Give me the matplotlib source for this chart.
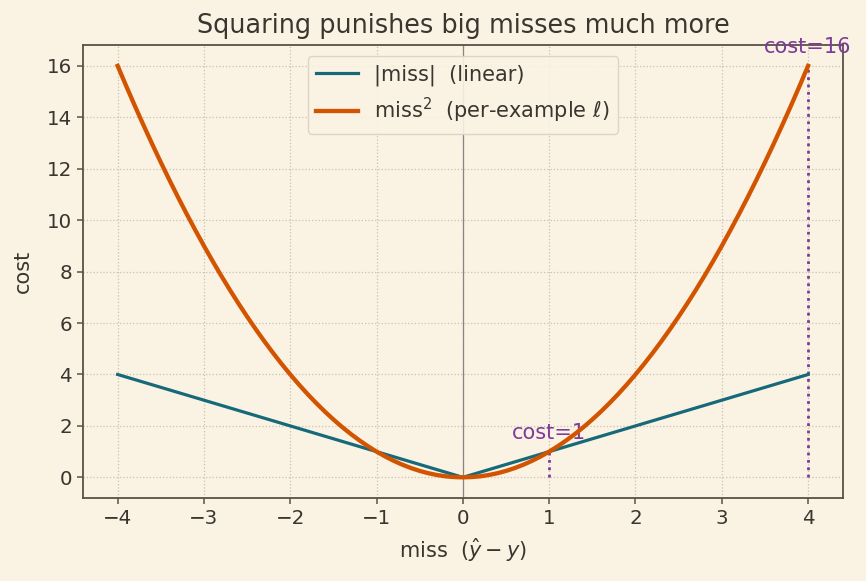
import matplotlib
matplotlib.use("Agg")
from matplotlib import pyplot as plt

# miss values (y_hat - y) sampled every 0.1
miss = [-4.0, -3.9, -3.8, -3.7, -3.6, -3.5, -3.4, -3.3, -3.2, -3.1,
        -3.0, -2.9, -2.8, -2.7, -2.6, -2.5, -2.4, -2.3, -2.2, -2.1,
        -2.0, -1.9, -1.8, -1.7, -1.6, -1.5, -1.4, -1.3, -1.2, -1.1,
        -1.0, -0.9, -0.8, -0.7, -0.6, -0.5, -0.4, -0.3, -0.2, -0.1,
        0.0, 0.1, 0.2, 0.3, 0.4, 0.5, 0.6, 0.7, 0.8, 0.9,
        1.0, 1.1, 1.2, 1.3, 1.4, 1.5, 1.6, 1.7, 1.8, 1.9,
        2.0, 2.1, 2.2, 2.3, 2.4, 2.5, 2.6, 2.7, 2.8, 2.9,
        3.0, 3.1, 3.2, 3.3, 3.4, 3.5, 3.6, 3.7, 3.8, 3.9, 4.0]
abs_cost = [4.0, 3.9, 3.8, 3.7, 3.6, 3.5, 3.4, 3.3, 3.2, 3.1,
            3.0, 2.9, 2.8, 2.7, 2.6, 2.5, 2.4, 2.3, 2.2, 2.1,
            2.0, 1.9, 1.8, 1.7, 1.6, 1.5, 1.4, 1.3, 1.2, 1.1,
            1.0, 0.9, 0.8, 0.7, 0.6, 0.5, 0.4, 0.3, 0.2, 0.1,
            0.0, 0.1, 0.2, 0.3, 0.4, 0.5, 0.6, 0.7, 0.8, 0.9,
            1.0, 1.1, 1.2, 1.3, 1.4, 1.5, 1.6, 1.7, 1.8, 1.9,
            2.0, 2.1, 2.2, 2.3, 2.4, 2.5, 2.6, 2.7, 2.8, 2.9,
            3.0, 3.1, 3.2, 3.3, 3.4, 3.5, 3.6, 3.7, 3.8, 3.9, 4.0]
sq_cost = [16.0, 15.21, 14.44, 13.69, 12.96, 12.25, 11.56, 10.89, 10.24, 9.61,
           9.0, 8.41, 7.84, 7.29, 6.76, 6.25, 5.76, 5.29, 4.84, 4.41,
           4.0, 3.61, 3.24, 2.89, 2.56, 2.25, 1.96, 1.69, 1.44, 1.21,
           1.0, 0.81, 0.64, 0.49, 0.36, 0.25, 0.16, 0.09, 0.04, 0.01,
           0.0, 0.01, 0.04, 0.09, 0.16, 0.25, 0.36, 0.49, 0.64, 0.81,
           1.0, 1.21, 1.44, 1.69, 1.96, 2.25, 2.56, 2.89, 3.24, 3.61,
           4.0, 4.41, 4.84, 5.29, 5.76, 6.25, 6.76, 7.29, 7.84, 8.41,
           9.0, 9.61, 10.24, 10.89, 11.56, 12.25, 12.96, 13.69, 14.44, 15.21, 16.0]

# highlighted points on the squared curve
mark_x = [1, 4]
mark_cost = [1, 16]

bg = "#faf3e4"
ink = "#3b3530"
teal = "#17697a"
orange = "#d35400"
purple = "#7d3c98"
spine = "#5b5046"

fig, ax = plt.subplots(figsize=(8.66, 5.81), dpi=100)
fig.patch.set_facecolor(bg)
ax.set_facecolor(bg)

ax.axvline(0, color="#8a8580", lw=0.9, zorder=1)
ax.plot(miss, abs_cost, color=teal, lw=2.3, label="|miss|  (linear)", zorder=3)
ax.plot(miss, sq_cost, color=orange, lw=3.1, solid_joinstyle="round",
        label=r"miss$^2$  (per-example $\ell$)", zorder=4)

ax.vlines(mark_x, 0, mark_cost, colors=purple, linestyles=":", lw=2, zorder=2)
for x, c in zip(mark_x, mark_cost):
    ax.text(x, c + 0.35, f"cost={c}", color=purple, fontsize=15,
            ha="center", va="bottom")

ax.set_xticks(range(-4, 5))
ax.set_yticks(range(0, 17, 2))
ax.grid(True, linestyle=":", color="#c9c1b3", lw=0.9)
ax.set_axisbelow(True)

for s in ax.spines.values():
    s.set_color(spine)
    s.set_linewidth(1.3)
ax.tick_params(colors=ink, labelsize=14.3, length=4.5, width=1.1)
ax.tick_params(axis="both", color=spine)

ax.set_xlabel(r"miss  $(\hat{y} - y)$", fontsize=15, color=ink, labelpad=6)
ax.set_ylabel("cost", fontsize=15, color=ink, labelpad=10)
ax.set_title("Squaring punishes big misses much more", fontsize=18.4,
             color=ink, pad=9)

leg = ax.legend(loc="upper center", fontsize=15, facecolor=bg,
                edgecolor="#d8d2c6", framealpha=0.9)
for t in leg.get_texts():
    t.set_color(ink)

fig.subplots_adjust(left=0.096, right=0.973, top=0.922, bottom=0.143)
plt.savefig("out.png", facecolor=bg)
